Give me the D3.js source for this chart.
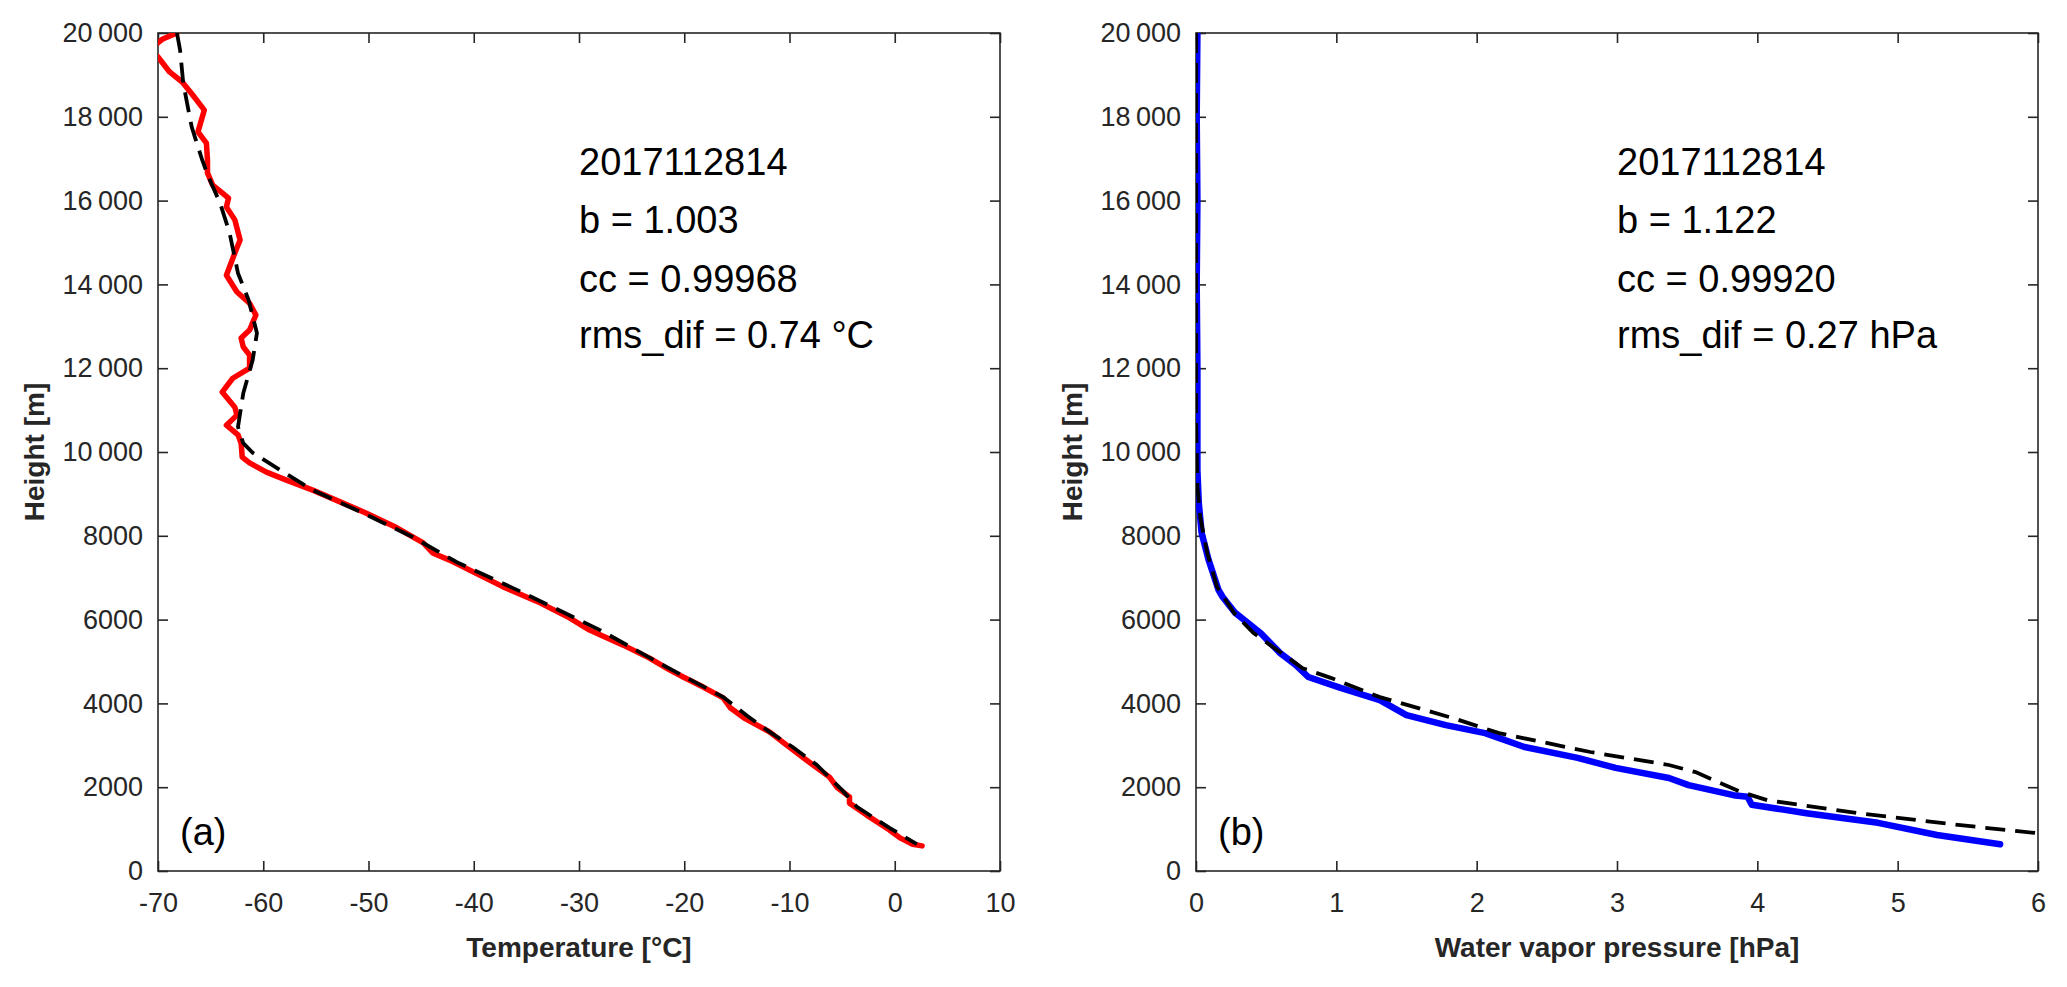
<!DOCTYPE html>
<html>
<head>
<meta charset="utf-8">
<script src="https://cdn.jsdelivr.net/npm/d3@7/dist/d3.min.js"></script>
<style>
  body { margin: 0; background: #fff; }
  text { font-family: "Liberation Sans", Arial, Helvetica, sans-serif; fill: #262626; }
</style>
</head>
<body>
<div id="chart"></div>
<script>
// observed and modelled profiles, [value, height m]
var tempObs = [[-68.2,20000],[-69.6,19850],[-70.8,19600],[-70.0,19430],[-68.9,19070],[-67.7,18830],
  [-66.7,18520],[-65.6,18160],[-66.2,17640],[-65.4,17370],[-65.3,16970],[-65.3,16660],[-64.8,16370],
  [-63.3,16060],[-63.5,15850],[-62.7,15540],[-62.2,15060],[-62.7,14750],[-63.5,14220],[-62.5,13820],
  [-61.3,13550],[-60.7,13270],[-61.3,12910],[-62.1,12720],[-61.9,12510],[-61.3,12310],[-61.3,12000],
  [-62.9,11760],[-63.9,11430],[-62.7,11070],[-62.5,10880],[-63.5,10640],[-62.4,10410],[-62.1,10210],
  [-62.0,9880],[-61.3,9740],[-59.7,9520],[-57.8,9330],[-55.3,9090],[-52.7,8810],[-50.2,8540],
  [-47.3,8190],[-44.8,7830],[-43.9,7590],[-42.3,7420],[-39.4,7060],[-37.2,6780],[-33.7,6400],
  [-30.9,6040],[-29.0,5750],[-25.8,5390],[-23.3,5080],[-21.4,4800],[-20.1,4630],[-18.2,4390],
  [-16.3,4130],[-15.6,3890],[-14.3,3650],[-11.9,3320],[-10.3,3010],[-8.4,2650],[-6.2,2240],
  [-5.5,2000],[-4.3,1770],[-4.3,1620],[-2.7,1340],[-0.5,980],[0.5,790],[1.7,640],[2.6,600]];

var tempMod = [[-68.2,20000],[-67.9,19590],[-67.6,18800],[-66.8,17760],[-65.8,16970],[-65.2,16560],
  [-64.1,15940],[-63.2,15230],[-62.4,14270],[-61.4,13630],[-60.6,12840],[-61.0,12200],[-61.9,11400],
  [-62.4,10600],[-61.9,10210],[-61.0,9980],[-58.4,9570],[-55.3,9090],[-50.5,8540],[-45.8,7970],
  [-41.6,7370],[-35.9,6710],[-28.0,5750],[-21.7,4870],[-16.3,4150],[-14.0,3700],[-11.9,3320],
  [-9.7,2960],[-7.4,2530],[-5.0,1930],[-3.6,1530],[-0.5,1030],[2.1,640]];

var vapObs = [[0.01,20000],[0.005,18000],[0.01,16000],[0.005,14000],[0.01,12000],[0.01,10760],
  [0.01,9570],[0.02,8780],[0.04,8070],[0.09,7420],[0.16,6710],[0.19,6540],[0.28,6160],[0.46,5680],
  [0.60,5200],[0.71,4920],[0.80,4630],[1.03,4370],[1.31,4080],[1.50,3720],[1.78,3480],[2.06,3290],
  [2.34,2960],[2.72,2700],[2.99,2460],[3.37,2220],[3.51,2050],[3.83,1810],[3.93,1770],[3.96,1580],
  [4.35,1380],[4.86,1150],[5.28,860],[5.73,640]];

var vapMod = [[0.0,20000],[0.0,14000],[0.0,10760],[0.01,9160],[0.03,8450],[0.08,7590],[0.15,6780],
  [0.27,6160],[0.41,5680],[0.58,5270],[0.76,4840],[0.96,4610],[1.31,4150],[1.83,3650],[2.16,3290],
  [2.81,2840],[3.37,2530],[3.56,2360],[3.88,1890],[4.07,1690],[4.72,1380],[5.43,1100],[6.0,900],
  [6.3,830]];

var heightTicks = [0,2000,4000,6000,8000,10000,12000,14000,16000,18000,20000];
var tempTicks = [-70,-60,-50,-40,-30,-20,-10,0,10];
var vapTicks = [0,1,2,3,4,5,6];

var tempText = ["2017112814", "b = 1.003", "cc = 0.99968", "rms_dif = 0.74 \u00B0C"];
var vapText = ["2017112814", "b = 1.122", "cc = 0.99920", "rms_dif = 0.27 hPa"];

var W = 2067, H = 987;
var svg = d3.select("#chart").append("svg")
  .attr("width", W).attr("height", H)
  .style("background", "#fff");

function heightFormat(d){
  var s = String(d);
  if (d >= 10000) s = s.slice(0, s.length - 3) + "\u2009" + s.slice(-3);
  return s;
}

function plainFormat(d){
  return String(d);
}

function buildPanel(opt){
  var x = d3.scaleLinear().domain(opt.xDomain).range([opt.left, opt.right]);
  var y = d3.scaleLinear().domain([0, 20000]).range([871, 33]);
  var g = svg.append("g");

  var clipId = "clip-" + opt.id;
  svg.append("clipPath").attr("id", clipId)
    .append("rect")
    .attr("x", opt.left).attr("y", 33)
    .attr("width", opt.right - opt.left).attr("height", 871 - 33);

  // axes with inward ticks
  g.append("g").attr("transform", "translate(0,871)")
    .call(d3.axisBottom(x).tickValues(opt.xTicks).tickSize(-10).tickSizeOuter(0).tickPadding(22).tickFormat(plainFormat))
    .call(styleAxis);
  g.append("g").attr("transform", "translate(0,33)")
    .call(d3.axisTop(x).tickValues(opt.xTicks).tickSize(-10).tickSizeOuter(0).tickFormat(""))
    .call(styleAxis);
  g.append("g").attr("transform", "translate(" + opt.left + ",0)")
    .call(d3.axisLeft(y).tickValues(heightTicks).tickSize(-10).tickSizeOuter(0).tickPadding(15).tickFormat(heightFormat))
    .call(styleAxis);
  g.append("g").attr("transform", "translate(" + opt.right + ",0)")
    .call(d3.axisRight(y).tickValues(heightTicks).tickSize(-10).tickSizeOuter(0).tickFormat(""))
    .call(styleAxis);

  g.append("rect")
    .attr("x", opt.left).attr("y", 33)
    .attr("width", opt.right - opt.left).attr("height", 871 - 33)
    .attr("fill", "none").attr("stroke", "#262626").attr("stroke-width", 1.6);

  var line = d3.line().x(function(d){ return x(d[0]); }).y(function(d){ return y(d[1]); });

  var plot = g.append("g").attr("clip-path", "url(#" + clipId + ")");
  plot.append("path").datum(opt.obs)
    .attr("d", line)
    .attr("fill", "none")
    .attr("stroke", opt.color)
    .attr("stroke-width", opt.obsWidth)
    .attr("stroke-linejoin", "round")
    .attr("stroke-linecap", "round");
  plot.append("path").datum(opt.mod)
    .attr("d", line)
    .attr("fill", "none")
    .attr("stroke", "#000")
    .attr("stroke-width", 3.8)
    .attr("stroke-dasharray", "20,10");

  // labels
  g.append("text")
    .attr("x", (opt.left + opt.right) / 2).attr("y", 957)
    .attr("text-anchor", "middle")
    .style("font-size", "28px").style("font-weight", "bold")
    .text(opt.xLabel);
  g.append("text")
    .attr("transform", "translate(" + (opt.left - 114) + ",452) rotate(-90)")
    .attr("text-anchor", "middle")
    .style("font-size", "28px").style("font-weight", "bold")
    .text("Height [m]");

  g.append("text")
    .attr("x", opt.left + 22).attr("y", 845)
    .style("font-size", "38px")
    .style("fill", "#000")
    .text(opt.tag);

  var baselines = [175, 233, 292, 348];
  opt.notes.forEach(function(t, i){
    g.append("text")
      .attr("x", opt.left + 421).attr("y", baselines[i])
      .style("font-size", "38px")
      .style("fill", "#000")
      .text(t);
  });
}

function styleAxis(sel){
  sel.select(".domain").remove();
  sel.selectAll(".tick line").attr("stroke", "#262626").attr("stroke-width", 1.6);
  sel.selectAll(".tick text")
    .style("font-size", "27px")
    .style("font-family", "'Liberation Sans', Arial, Helvetica, sans-serif")
    .attr("fill", "#262626");
}

buildPanel({
  id: "a", left: 158, right: 1000, xDomain: [-70, 10], xTicks: tempTicks,
  obs: tempObs, mod: tempMod, color: "#ff0000", obsWidth: 5.5,
  xLabel: "Temperature [\u00B0C]", tag: "(a)", notes: tempText
});
buildPanel({
  id: "b", left: 1196, right: 2038, xDomain: [0, 6], xTicks: vapTicks,
  obs: vapObs, mod: vapMod, color: "#0000ff", obsWidth: 6.5,
  xLabel: "Water vapor pressure [hPa]", tag: "(b)", notes: vapText
});
</script>
</body>
</html>
